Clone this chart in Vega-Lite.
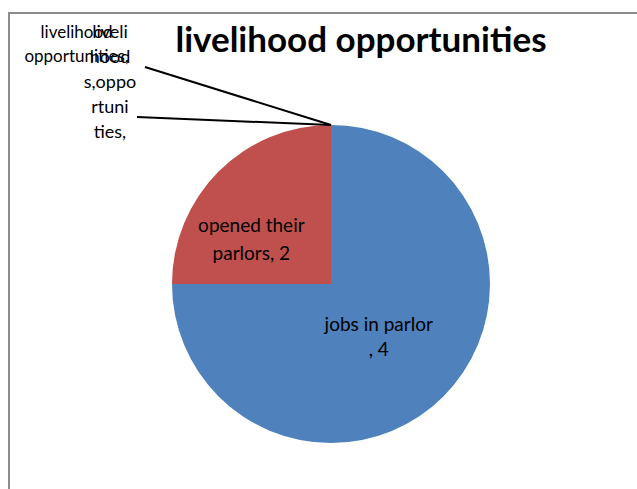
{
  "$schema": "https://vega.github.io/schema/vega-lite/v6.json",
  "width": 644,
  "height": 542,
  "autosize": {"type": "none"},
  "padding": {"left": 9, "top": 13, "right": 0, "bottom": 0},
  "background": "white",
  "config": {"view": {"stroke": "#8c8c8c", "strokeWidth": 2}, "font": "Lato"},
  "title": {"text": "livelihood opportunities", "font": "Lato", "fontSize": 35, "fontWeight": "bold", "color": "black", "anchor": "middle", "dx": 30, "dy": 74, "baseline": "alphabetic", "offset": 0},
  "data": {
    "values": [
      {"category": "jobs in parlor", "count": 4, "share": 75, "order": 1, "label": ["jobs in parlor", ", 4"]},
      {"category": "opened their parlors", "count": 2, "share": 25, "order": 2, "label": ["opened their", "parlors, 2"]},
      {"category": "livelihood opportunities", "count": 0, "share": 0, "order": 3, "label": ["livelihood", "opportunities,"]},
      {"category": "livelihoods, opportunities", "count": 0, "share": 0, "order": 4, "label": ["liveli", "hood", "s,oppo", "rtuni", "ties,"]}
    ]
  },
  "layer": [
    {
      "mark": {"type": "arc", "outerRadius": 159},
      "encoding": {
        "theta": {"field": "share", "type": "quantitative", "stack": true},
        "order": {"field": "order", "type": "quantitative"},
        "color": {"field": "category", "type": "nominal", "legend": null,
          "scale": {"domain": ["jobs in parlor", "opened their parlors", "livelihood opportunities", "livelihoods, opportunities"], "range": ["#4F81BD", "#C0504D", "#9BBB59", "#8064A2"]}}
      }
    },
    {
      "mark": {"type": "text", "radius": 76, "dx": -6, "dy": -13, "fontSize": 19, "lineHeight": 25, "align": "center", "baseline": "middle", "color": "black"},
      "encoding": {
        "theta": {"field": "share", "type": "quantitative", "stack": true},
        "order": {"field": "order", "type": "quantitative"},
        "text": {"condition": {"test": "datum.category === 'jobs in parlor'", "field": "label"}, "value": ""}
      }
    },
    {
      "mark": {"type": "text", "radius": 90, "dx": -16, "dy": 6, "fontSize": 19, "lineHeight": 28, "align": "center", "baseline": "middle", "color": "black"},
      "encoding": {
        "theta": {"field": "share", "type": "quantitative", "stack": true},
        "order": {"field": "order", "type": "quantitative"},
        "text": {"condition": {"test": "datum.category === 'opened their parlors'", "field": "label"}, "value": ""}
      }
    },
    {
      "transform": [{"filter": "datum.category === 'livelihood opportunities'"}],
      "mark": {"type": "rule", "color": "black", "strokeWidth": 2},
      "encoding": {
        "x": {"datum": -1.17, "type": "quantitative", "scale": {"domain": [-2.025, 2.025], "nice": false, "zero": false}, "axis": null},
        "y": {"datum": 1.365, "type": "quantitative", "scale": {"domain": [-1.7044, 1.7044], "nice": false, "zero": false}, "axis": null},
        "x2": {"datum": 0},
        "y2": {"datum": 1.0}
      }
    },
    {
      "transform": [{"filter": "datum.category === 'livelihoods, opportunities'"}],
      "mark": {"type": "rule", "color": "black", "strokeWidth": 2},
      "encoding": {
        "x": {"datum": -1.22, "type": "quantitative", "scale": {"domain": [-2.025, 2.025], "nice": false, "zero": false}, "axis": null},
        "y": {"datum": 1.05, "type": "quantitative", "scale": {"domain": [-1.7044, 1.7044], "nice": false, "zero": false}, "axis": null},
        "x2": {"datum": 0},
        "y2": {"datum": 1.0}
      }
    },
    {
      "transform": [{"filter": "datum.category === 'livelihood opportunities'"}],
      "mark": {"type": "text", "fontSize": 17, "lineHeight": 24, "align": "center", "baseline": "alphabetic", "color": "black"},
      "encoding": {
        "x": {"datum": -1.6, "type": "quantitative", "scale": {"domain": [-2.025, 2.025], "nice": false, "zero": false}, "axis": null},
        "y": {"datum": 1.547, "type": "quantitative", "scale": {"domain": [-1.7044, 1.7044], "nice": false, "zero": false}, "axis": null},
        "text": {"field": "label"}
      }
    },
    {
      "transform": [{"filter": "datum.category === 'livelihoods, opportunities'"}],
      "mark": {"type": "text", "fontSize": 18, "lineHeight": 25, "align": "center", "baseline": "alphabetic", "color": "black"},
      "encoding": {
        "x": {"datum": -1.39, "type": "quantitative", "scale": {"domain": [-2.025, 2.025], "nice": false, "zero": false}, "axis": null},
        "y": {"datum": 1.547, "type": "quantitative", "scale": {"domain": [-1.7044, 1.7044], "nice": false, "zero": false}, "axis": null},
        "text": {"field": "label"}
      }
    }
  ]
}
